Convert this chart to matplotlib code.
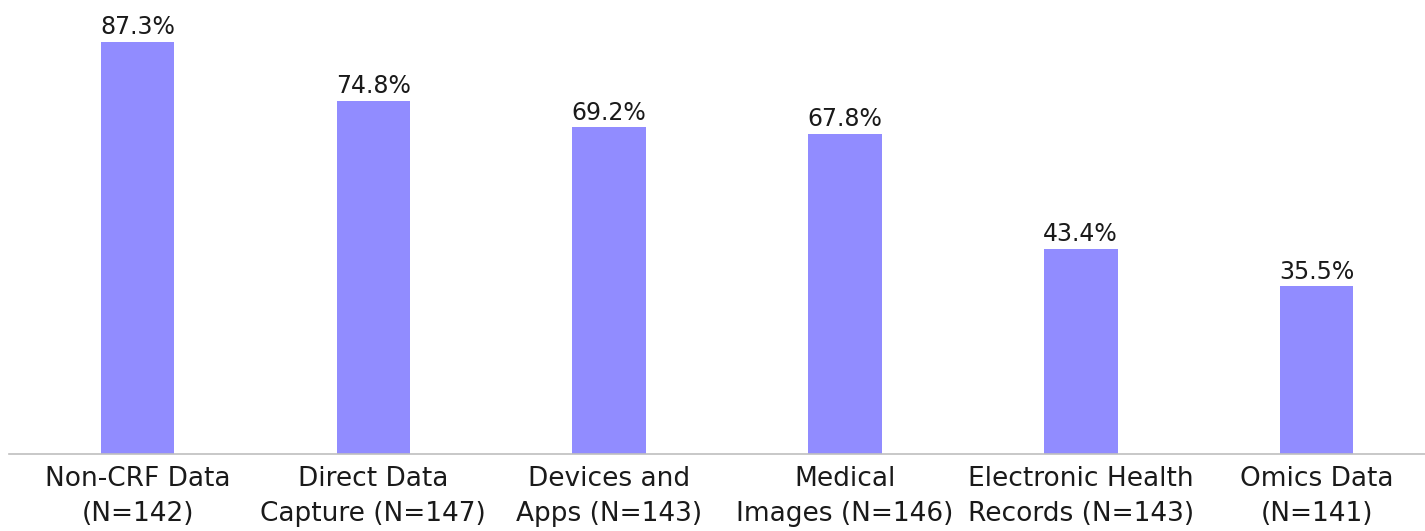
import matplotlib
matplotlib.use("Agg")
import matplotlib.pyplot as plt

categories = ["Non-CRF Data\n(N=142)", "Direct Data\nCapture (N=147)", "Devices and\nApps (N=143)",
              "Medical\nImages (N=146)", "Electronic Health\nRecords (N=143)", "Omics Data\n(N=141)"]
values = [87.3, 74.8, 69.2, 67.8, 43.4, 35.5]

plt.rcParams['font.family'] = ['DejaVu Sans']

fig = plt.figure(figsize=(14.25, 5.31), dpi=100)
ax = fig.add_axes([9/1425, 77/531, 1416/1425, 454/531])
x = list(range(len(values)))
bars = ax.bar(x, values, width=0.312, color="#918CFF", zorder=2)
for xi, v in zip(x, values):
    ax.annotate(f"{v:.1f}%", (xi, v), xytext=(0, 2), textcoords="offset points",
                ha="center", va="bottom", fontsize=17, color="#1a1a1a")
ax.set_xlim(-0.545, 5.46)
ax.set_ylim(0, 96.2)
ax.set_xticks(x)
ax.set_xticklabels(categories, fontsize=19, color="#1a1a1a", linespacing=1.42)
ax.tick_params(axis="x", length=0, pad=9)
ax.set_yticks([])
for s in ["top", "right", "left"]:
    ax.spines[s].set_visible(False)
ax.spines["bottom"].set_color("#BFBFBF")
ax.spines["bottom"].set_linewidth(1.2)
fig.savefig("out.png", dpi=100)
